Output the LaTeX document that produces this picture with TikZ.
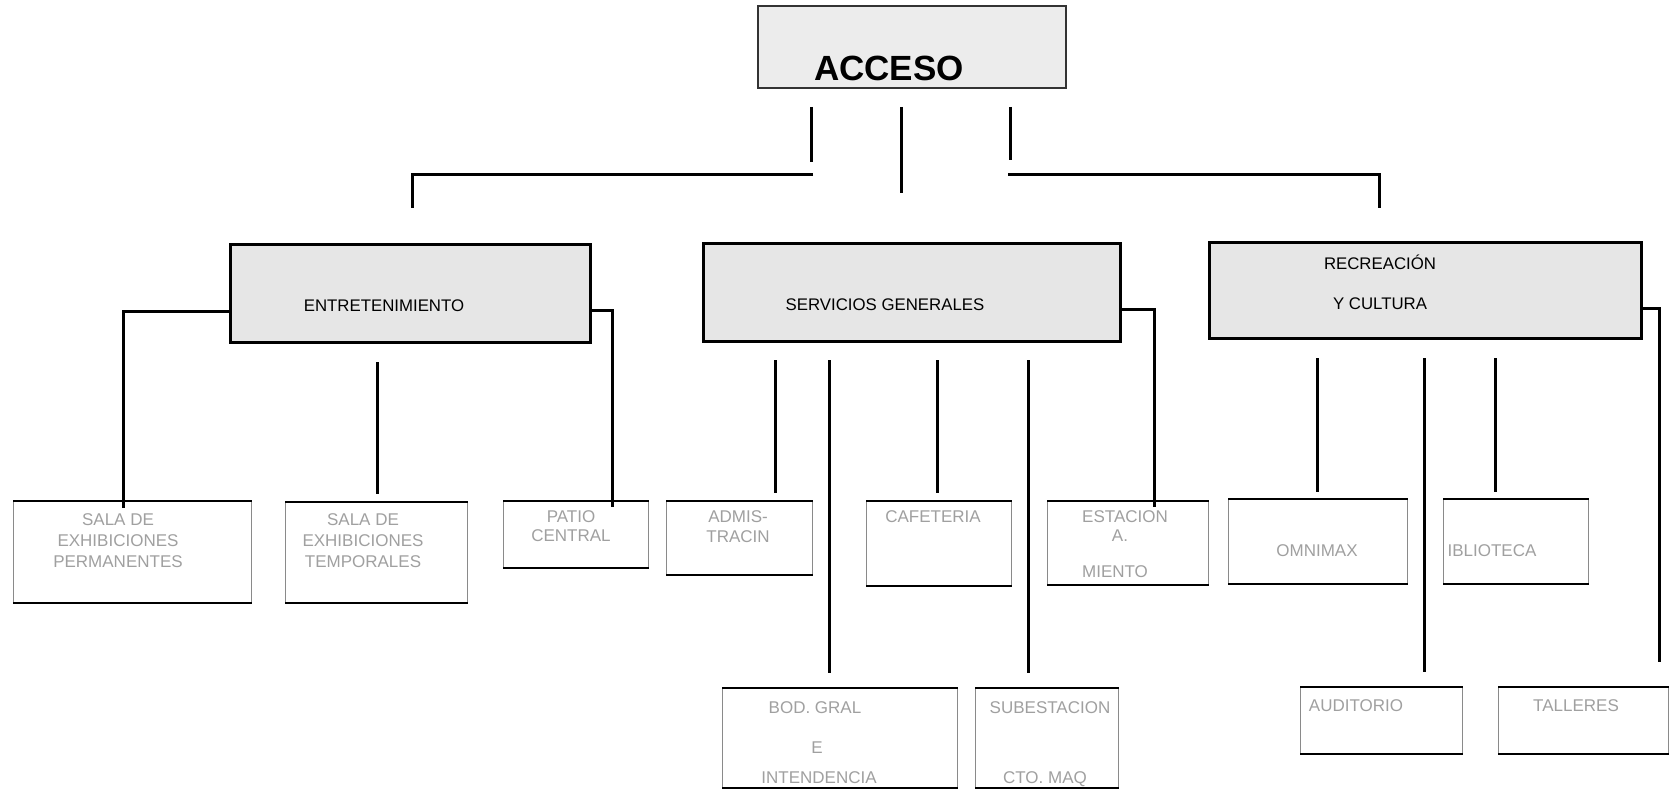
\documentclass[tikz,border=0pt]{standalone}
\usepackage{fontspec}
\setmainfont{Liberation Sans}
\usepackage{xcolor}
\usepackage{tikz}
\usetikzlibrary{positioning}
\definecolor{boxgray}{HTML}{E6E6E6}
\definecolor{topgray}{HTML}{ECECEC}
\definecolor{leafline}{HTML}{8A8A8A}
\definecolor{labelgray}{HTML}{A0A0A0}

\begin{document}
\begin{tikzpicture}[
    x=1pt, y=-1pt,
    catbox/.style={rectangle, draw=black, line width=2.6pt, fill=boxgray, anchor=north west, inner sep=0pt},
    leafbox/.style={rectangle, draw=leafline, line width=1.1pt, fill=white, anchor=north west, inner sep=0pt,
        append after command={(\tikzlastnode.north west) edge[draw=black, line width=1.4pt] (\tikzlastnode.north east)
            (\tikzlastnode.south west) edge[draw=black, line width=1.4pt] (\tikzlastnode.south east)}},
    cattext/.style={font=\fontsize{16.8}{20}\selectfont, anchor=base, inner sep=0pt},
    leaftext/.style={font=\fontsize{17}{20}\selectfont, text=labelgray, anchor=base, inner sep=0pt},
    link/.style={line width=3pt, color=black}
]
\useasboundingbox (0,0) rectangle (1670,789);

% Acceso
\node[rectangle, draw=black!80, line width=1.6pt, fill=topgray, anchor=north west, minimum width=308pt, minimum height=82pt] (acceso) at (757,5) {};
\node[font=\fontsize{35}{40}\selectfont\bfseries, anchor=base, inner sep=0pt] (accesotxt) at (889,81) {ACCESO};

% Lines under acceso
\foreach \x/\yb in {811/162, 901/193, 1010/160}
    \draw[link] (\x,107) -- (\x,\yb);
\draw[link] (813,174) -- (412,174) -- (412,208);
\draw[link] (1008,174) -- (1379,174) -- (1379,208);

% Main areas
\node[catbox, minimum width=360pt, minimum height=98pt] (entret) at (229,243) {};
\node[cattext] (entrettxt) at (384,311) {ENTRETENIMIENTO};

\node[catbox, minimum width=417pt, minimum height=98pt] (servicios) at (702,242) {};
\node[cattext] (serviciostxt) at (885,310) {SERVICIOS GENERALES};

\node[catbox, minimum width=432pt, minimum height=96pt] (recrea) at (1208,241) {};
\node[cattext] (recreatxt) at (1380,269) {RECREACIÓN};
\node[cattext] (culturatxt) at (1380,309) {Y CULTURA};

% Entretenimiento
\node[leafbox, minimum width=238pt, minimum height=101pt] (salaperm) at (13,501) {};
\node[leaftext] (salaperm-a) at (118,525) {SALA DE};
\node[leaftext] (salaperm-b) at (118,546) {EXHIBICIONES};
\node[leaftext] (salaperm-c) at (118,567) {PERMANENTES};

\node[leafbox, minimum width=182pt, minimum height=100pt] (salatemp) at (285,502) {};
\node[leaftext] (salatemp-a) at (363,525) {SALA DE};
\node[leaftext] (salatemp-b) at (363,546) {EXHIBICIONES};
\node[leaftext] (salatemp-c) at (363,567) {TEMPORALES};

\node[leafbox, minimum width=145pt, minimum height=66pt] (patio) at (503,501) {};
\node[leaftext] (patio-a) at (571,522) {PATIO};
\node[leaftext] (patio-b) at (571,541) {CENTRAL};

% Servicios generales
\node[leafbox, minimum width=146pt, minimum height=73pt] (admin) at (666,501) {};
\node[leaftext] (admin-a) at (738,522) {ADMIS-};
\node[leaftext] (admin-b) at (738,542) {TRACIN};

\node[leafbox, minimum width=145pt, minimum height=84pt] (cafe) at (866,501) {};
\node[leaftext] (cafe-a) at (933,522) {CAFETERIA};

\node[leafbox, minimum width=161pt, minimum height=83pt] (estac) at (1047,501) {};
\node[leaftext] (estac-a) at (1125,522) {ESTACION};
\node[leaftext] (estac-b) at (1120,541) {A.};
\node[leaftext] (estac-c) at (1115,577) {MIENTO};

\node[leafbox, minimum width=235pt, minimum height=99pt] (bodgral) at (722,688) {};
\node[leaftext] (bodgral-a) at (815,713) {BOD. GRAL};
\node[leaftext] (bodgral-b) at (817,753) {E};
\node[leaftext] (bodgral-c) at (819,783) {INTENDENCIA};

\node[leafbox, minimum width=143pt, minimum height=99pt] (subest) at (975,688) {};
\node[leaftext] (subest-a) at (1050,713) {SUBESTACION};
\node[leaftext] (subest-b) at (1045,783) {CTO. MAQ};

% Recreacion y cultura
\node[leafbox, minimum width=179pt, minimum height=84pt] (omnimax) at (1228,499) {};
\node[leaftext] (omnimax-a) at (1317,556) {OMNIMAX};

\node[leafbox, minimum width=145pt, minimum height=84pt] (biblio) at (1443,499) {};
\node[leaftext] (biblio-a) at (1492,556) {IBLIOTECA};

\node[leafbox, minimum width=162pt, minimum height=66pt] (auditorio) at (1300,687) {};
\node[leaftext] (auditorio-a) at (1356,711) {AUDITORIO};

\node[leafbox, minimum width=170pt, minimum height=66pt] (talleres) at (1498,687) {};
\node[leaftext] (talleres-a) at (1576,711) {TALLERES};

% Connectors
\draw[link] ([yshift=-18pt]entret.west) -| (123,508);
\draw[link] ([yshift=-17pt]entret.east) -| (612,507);
\draw[link] ([yshift=-17pt]servicios.east) -| (1154,507);
\draw[link] ([yshift=-18pt]recrea.east) -| (1659,662);
\foreach \x/\ya/\yb in {377/362/494, 775/360/493, 829/360/673, 937/360/493, 1028/360/673, 1317/358/492, 1424/358/672, 1495/358/492}
    \draw[link] (\x,\ya) -- (\x,\yb);

\end{tikzpicture}
\end{document}
